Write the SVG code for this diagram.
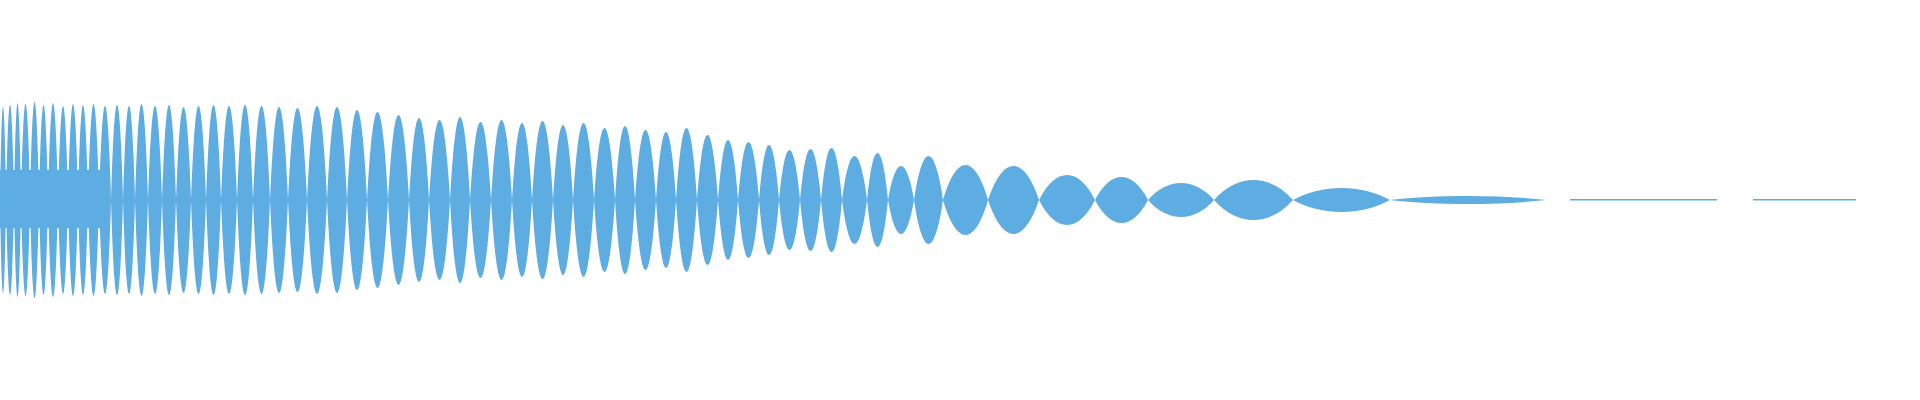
<svg xmlns="http://www.w3.org/2000/svg" xmlns:xlink="http://www.w3.org/1999/xlink" width="1920" height="400" viewBox="0 0 1920 400">
<defs><path id="L" d="M0,0 C0.3,-1.333 0.7,-1.333 1,0 C0.7,1.333 0.3,1.333 0,0Z"/></defs>
<style>.w{fill:#5dade2}</style>
<rect width="1920" height="400" fill="#fff"/>
<g class="w">
<rect x="0" y="170" width="110" height="58"/>
<use href="#L" transform="translate(0,200) scale(6,93)"/>
<use href="#L" transform="translate(6,200) scale(8,95)"/>
<use href="#L" transform="translate(14,200) scale(7,97)"/>
<use href="#L" transform="translate(21,200) scale(9,96)"/>
<use href="#L" transform="translate(30,200) scale(9,98)"/>
<use href="#L" transform="translate(39,200) scale(9,95)"/>
<use href="#L" transform="translate(48,200) scale(10,97)"/>
<use href="#L" transform="translate(58,200) scale(10,94)"/>
<use href="#L" transform="translate(68,200) scale(10,96)"/>
<use href="#L" transform="translate(78,200) scale(10,95)"/>
<use href="#L" transform="translate(88,200) scale(11,96)"/>
<use href="#L" transform="translate(99,200) scale(12,94)"/>
<use href="#L" transform="translate(111,200) scale(12,95)"/>
<use href="#L" transform="translate(123,200) scale(12,94)"/>
<use href="#L" transform="translate(135,200) scale(13,96)"/>
<use href="#L" transform="translate(148,200) scale(14,94)"/>
<use href="#L" transform="translate(162,200) scale(14,95)"/>
<use href="#L" transform="translate(176,200) scale(15,93)"/>
<use href="#L" transform="translate(191,200) scale(15,94)"/>
<use href="#L" transform="translate(206,200) scale(15,95)"/>
<use href="#L" transform="translate(221,200) scale(16,94)"/>
<use href="#L" transform="translate(237,200) scale(16,95)"/>
<use href="#L" transform="translate(253,200) scale(17,94)"/>
<use href="#L" transform="translate(270,200) scale(18,93)"/>
<use href="#L" transform="translate(288,200) scale(19,92)"/>
<use href="#L" transform="translate(307,200) scale(20,94)"/>
<use href="#L" transform="translate(327,200) scale(20,93)"/>
<use href="#L" transform="translate(347,200) scale(20,90)"/>
<use href="#L" transform="translate(367,200) scale(21,88)"/>
<use href="#L" transform="translate(388,200) scale(21,85)"/>
<use href="#L" transform="translate(409,200) scale(20,82)"/>
<use href="#L" transform="translate(429,200) scale(21,80)"/>
<use href="#L" transform="translate(450,200) scale(20,83)"/>
<use href="#L" transform="translate(470,200) scale(21,78)"/>
<use href="#L" transform="translate(491,200) scale(21,80)"/>
<use href="#L" transform="translate(512,200) scale(20,77)"/>
<use href="#L" transform="translate(532,200) scale(21,79)"/>
<use href="#L" transform="translate(553,200) scale(20,75)"/>
<use href="#L" transform="translate(573,200) scale(21,77)"/>
<use href="#L" transform="translate(594,200) scale(21,72)"/>
<use href="#L" transform="translate(615,200) scale(20,74)"/>
<use href="#L" transform="translate(635,200) scale(21,70)"/>
<use href="#L" transform="translate(656,200) scale(20,68)"/>
<use href="#L" transform="translate(676,200) scale(21,72)"/>
<use href="#L" transform="translate(697,200) scale(21,65)"/>
<use href="#L" transform="translate(718,200) scale(20,60)"/>
<use href="#L" transform="translate(738,200) scale(21,58)"/>
<use href="#L" transform="translate(759,200) scale(20,55)"/>
<use href="#L" transform="translate(779,200) scale(21,50)"/>
<use href="#L" transform="translate(800,200) scale(21,51)"/>
<use href="#L" transform="translate(821,200) scale(21,52)"/>
<use href="#L" transform="translate(842,200) scale(25,44)"/>
<use href="#L" transform="translate(867,200) scale(21,47)"/>
<use href="#L" transform="translate(888,200) scale(26,34)"/>
<use href="#L" transform="translate(914,200) scale(29,44)"/>
<use href="#L" transform="translate(943,200) scale(45,35)"/>
<use href="#L" transform="translate(988,200) scale(51,34)"/>
<use href="#L" transform="translate(1039,200) scale(56,25)"/>
<use href="#L" transform="translate(1095,200) scale(53,23)"/>
<use href="#L" transform="translate(1148,200) scale(66,17)"/>
<use href="#L" transform="translate(1214,200) scale(79,20)"/>
<use href="#L" transform="translate(1293,200) scale(97,12)"/>
<use href="#L" transform="translate(1390,200) scale(156,4)"/>
<rect x="1570" y="199" width="147" height="1.5"/>
<rect x="1753" y="199" width="103" height="1.5"/>
</g>
</svg>
